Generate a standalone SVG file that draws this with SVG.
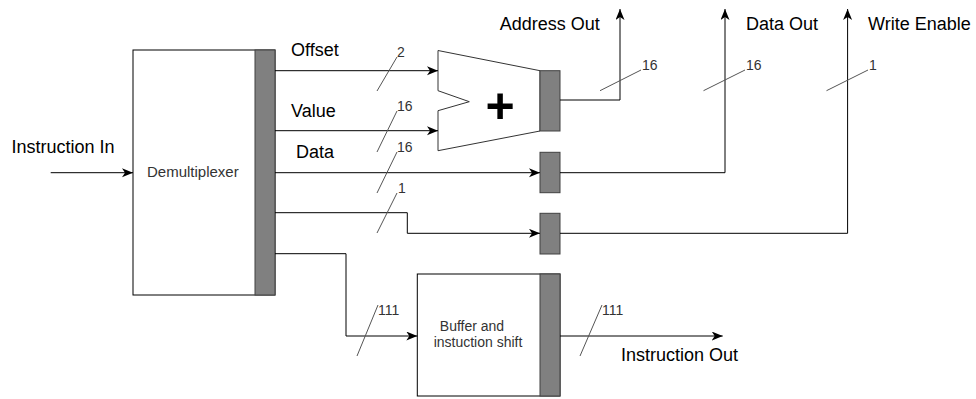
<svg xmlns="http://www.w3.org/2000/svg" width="976" height="399" viewBox="0 0 976 399">
<defs>
<marker id="arr" markerUnits="userSpaceOnUse" markerWidth="12" markerHeight="10" refX="11" refY="4.5" orient="auto">
<path d="M0,0 L11,4.5 L0,9 L3,4.5 z" fill="#000"/>
</marker>
<style>
.box{fill:#fff;stroke:#000;stroke-width:1}
.bar{fill:#808080;stroke:#404040;stroke-width:1}
.wire{fill:none;stroke:#000;stroke-width:1}
.tick{fill:none;stroke:#555;stroke-width:1}
.lbl{font-family:"Liberation Sans",Arial,sans-serif;font-size:18px;fill:#000}
.num{font-family:"Liberation Sans",Arial,sans-serif;font-size:14px;fill:#333}
.in{font-family:"Liberation Sans",Arial,sans-serif;font-size:15px;fill:#333}
.in2{font-family:"Liberation Sans",Arial,sans-serif;font-size:14px;fill:#333}
</style>
</defs>
<rect width="976" height="399" fill="#fff"/>

<g id="demux">
<rect class="box" x="133" y="50" width="142" height="245"/>
<rect class="bar" x="255" y="50" width="20" height="245"/>
<text class="in" x="147" y="177">Demultiplexer</text>
</g>

<g id="adder">
<polygon points="438,50.5 540,70.7 540,131 438,150.7 438,110.7 469.3,101.7 438,90.7" fill="#fff" stroke="#333" stroke-width="1"/>
<rect class="bar" x="540" y="70.7" width="20" height="60.3"/>
<text x="500" y="123" text-anchor="middle" font-family="Liberation Sans,Arial,sans-serif" font-size="50" font-weight="bold" fill="#000">+</text>
</g>

<g id="data-reg">
<rect class="bar" x="540" y="152.3" width="20" height="40.4"/>
</g>

<g id="we-reg">
<rect class="bar" x="540" y="213.3" width="20" height="40.7"/>
</g>

<g id="buffer">
<rect class="box" x="417.3" y="274" width="142.7" height="122"/>
<rect class="bar" x="540" y="274" width="20" height="122"/>
<text class="in2" x="472" y="330.5" text-anchor="middle">Buffer and</text>
<text class="in2" x="478" y="347" text-anchor="middle">instuction shift</text>
</g>

<g id="connectors">
<path class="wire" d="M50.7,172.7 H133" marker-end="url(#arr)"/>
<path class="wire" d="M275,70.7 H438" marker-end="url(#arr)"/>
<path class="wire" d="M275,130.7 H438" marker-end="url(#arr)"/>
<path class="wire" d="M275,172.7 H540" marker-end="url(#arr)"/>
<path class="wire" d="M275,212.7 H407.3 V233.3 H540" marker-end="url(#arr)"/>
<path class="wire" d="M275,253.7 H346 V336 H417.3" marker-end="url(#arr)"/>
<path class="wire" d="M560,100 H620 V9" marker-end="url(#arr)"/>
<path class="wire" d="M560,172.7 H725 V9" marker-end="url(#arr)"/>
<path class="wire" d="M560,233.3 H847.6 V9" marker-end="url(#arr)"/>
<path class="wire" d="M560,336 H722.7" marker-end="url(#arr)"/>
</g>

<g id="bus-ticks">
<line class="tick" x1="377" y1="91" x2="397" y2="57"/>
<line class="tick" x1="377" y1="152" x2="397" y2="111"/>
<line class="tick" x1="377" y1="193" x2="397" y2="152"/>
<line class="tick" x1="377" y1="233" x2="397" y2="193"/>
<line class="tick" x1="600" y1="90.7" x2="641" y2="70"/>
<line class="tick" x1="703.5" y1="90.7" x2="745" y2="70"/>
<line class="tick" x1="826.5" y1="90.7" x2="868" y2="70"/>
<line class="tick" x1="357" y1="356" x2="378" y2="305"/>
<line class="tick" x1="580" y1="356" x2="602" y2="305"/>
<text class="num" x="397" y="56.5">2</text>
<text class="num" x="397" y="111">16</text>
<text class="num" x="397" y="152">16</text>
<text class="num" x="398" y="193">1</text>
<text class="num" x="642" y="70">16</text>
<text class="num" x="746" y="70">16</text>
<text class="num" x="869" y="70">1</text>
<text class="num" x="378" y="315">111</text>
<text class="num" x="602" y="315">111</text>
</g>

<g id="labels">
<text class="lbl" x="11.5" y="153.3">Instruction In</text>
<text class="lbl" x="291" y="56">Offset</text>
<text class="lbl" x="291" y="117.3">Value</text>
<text class="lbl" x="296" y="157.7">Data</text>
<text class="lbl" x="499.7" y="30">Address Out</text>
<text class="lbl" x="746" y="30">Data Out</text>
<text class="lbl" x="868" y="30">Write Enable</text>
<text class="lbl" x="621" y="360.7">Instruction Out</text>
</g>
</svg>
